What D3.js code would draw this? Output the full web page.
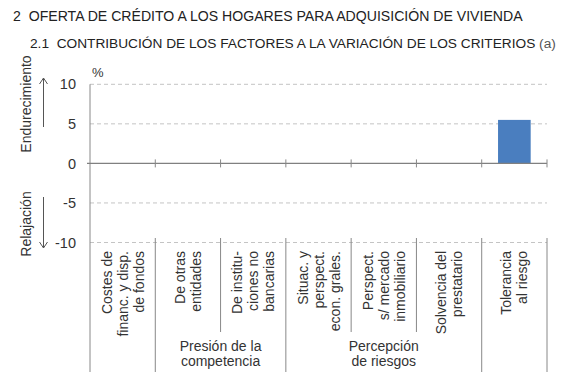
<!DOCTYPE html>
<html><head><meta charset="utf-8">
<script src="https://cdn.jsdelivr.net/npm/d3@7"></script>
<style>
body{margin:0;background:#fff;}
text{font-family:"Liberation Sans",Arial,Helvetica,sans-serif;fill:#333;}
</style></head>
<body><svg id="c" width="566" height="384"></svg>
<script>
const title1 = "2  OFERTA DE CRÉDITO A LOS HOGARES PARA ADQUISICIÓN DE VIVIENDA";
const title2 = "2.1  CONTRIBUCIÓN DE LOS FACTORES A LA VARIACIÓN DE LOS CRITERIOS";
const categories = [
  ["Costes de","financ. y disp.","de fondos"],
  ["De otras","entidades"],
  ["De institu-","ciones no","bancarias"],
  ["Situac. y","perspect.","econ. grales."],
  ["Perspect.","s/ mercado","inmobiliario"],
  ["Solvencia del","prestatario"],
  ["Tolerancia","al riesgo"]
];
const values = [0, 0, 0, 0, 0, 0, 5.5];
const groups = [
  {start:1, end:3, label:["Presión de la","competencia"]},
  {start:3, end:6, label:["Percepción","de riesgos"]}
];
const yTicks = [10, 5, 0, -5, -10];

const svg = d3.select("#c");
const x0 = 90, x1 = 547;
const x = d3.scaleBand().domain(d3.range(categories.length)).range([x0, x1]).paddingInner(0).paddingOuter(0);
const y = d3.scaleLinear().domain([-10, 10]).range([242.5, 84.3]);

svg.append("text").attr("x", 13).attr("y", 21).style("font-size","14.1px").style("white-space","pre").style("fill","#222").text(title1);
const t2 = svg.append("text").attr("x", 30).attr("y", 48).style("font-size","13.7px").style("white-space","pre").style("fill","#222");
t2.append("tspan").text(title2 + " ");
t2.append("tspan").style("fill","#555").text("(a)");

// gridlines
svg.append("g").selectAll("line").data(yTicks.filter(d => d !== 0)).join("line")
  .attr("x1", x0).attr("x2", x1).attr("y1", d => y(d)).attr("y2", d => y(d))
  .attr("stroke", "#c4c4c4").attr("stroke-dasharray", "4,3").attr("stroke-width", 1);

// bars
const bw = x.bandwidth() * 0.5;
svg.append("g").selectAll("rect").data(values).join("rect")
  .attr("x", (d, i) => x(i) + (x.bandwidth() - bw) / 2)
  .attr("width", bw)
  .attr("y", d => y(Math.max(0, d)))
  .attr("height", d => Math.abs(y(d) - y(0)))
  .attr("fill", "#4a7ebf");

// y axis
const yAxis = d3.axisLeft(y).tickValues(yTicks).tickSize(0).tickPadding(14).tickFormat(d => String(d));
const ga = svg.append("g").attr("transform", `translate(${x0},0)`).call(yAxis);
ga.select(".domain").remove();
ga.selectAll("text").style("font-size","14.5px").style("font-family","Liberation Sans, Arial, sans-serif").attr("fill","#333");
svg.append("line").attr("x1", x0).attr("x2", x0).attr("y1", y(10)).attr("y2", 372).attr("stroke", "#888");

// zero line with ticks
svg.append("line").attr("x1", x0 - 3).attr("x2", x1).attr("y1", y(0)).attr("y2", y(0)).attr("stroke", "#808080").attr("stroke-width", 1.3);
const bounds = d3.range(categories.length + 1).map(i => i < categories.length ? x(i) : x1);
svg.append("g").selectAll("line").data(bounds.slice(1)).join("line")
  .attr("x1", d => d).attr("x2", d => d).attr("y1", y(0) - 4).attr("y2", y(0) + 4).attr("stroke", "#888");

svg.append("text").attr("x", 92).attr("y", 77).style("font-size","13px").text("%");

// category separators
const inner = new Set();
groups.forEach(g => { for (let k = g.start + 1; k < g.end; k++) inner.add(k); });
svg.append("g").selectAll("line").data(d3.range(1, categories.length + 1)).join("line")
  .attr("x1", i => bounds[i]).attr("x2", i => bounds[i])
  .attr("y1", 238).attr("y2", i => inner.has(i) ? 332 : 372)
  .attr("stroke", "#888");

// category labels
const lh = 16;
categories.forEach((lines, i) => {
  const cx = x(i) + x.bandwidth() / 2;
  const n = lines.length;
  lines.forEach((ln, j) => {
    const bx = cx + (j - (n - 1) / 2) * lh + 5;
    svg.append("text").attr("transform", `translate(${bx},251) rotate(-90)`)
      .attr("text-anchor", "end").style("font-size","14px").text(ln);
  });
});

// group labels
groups.forEach(g => {
  const cx = (bounds[g.start] + bounds[g.end]) / 2;
  g.label.forEach((ln, j) => {
    svg.append("text").attr("x", cx).attr("y", 351 + j * 14.5).attr("text-anchor", "middle").style("font-size","14px").text(ln);
  });
});

// side arrows and labels
const ax = 43.5;
svg.append("line").attr("x1", ax).attr("x2", ax).attr("y1", 78).attr("y2", 127).attr("stroke", "#555");
svg.append("path").attr("d", `M${ax-4},${84}L${ax},${78}L${ax+4},${84}`).attr("fill","none").attr("stroke","#555");
svg.append("line").attr("x1", ax).attr("x2", ax).attr("y1", 197).attr("y2", 248).attr("stroke", "#555");
svg.append("path").attr("d", `M${ax-4},${242}L${ax},${248}L${ax+4},${242}`).attr("fill","none").attr("stroke","#555");
svg.append("text").attr("transform", "translate(31,104) rotate(-90)").attr("text-anchor","middle").style("font-size","14px").text("Endurecimiento");
svg.append("text").attr("transform", "translate(31,224) rotate(-90)").attr("text-anchor","middle").style("font-size","14px").text("Relajación");
</script></body></html>
